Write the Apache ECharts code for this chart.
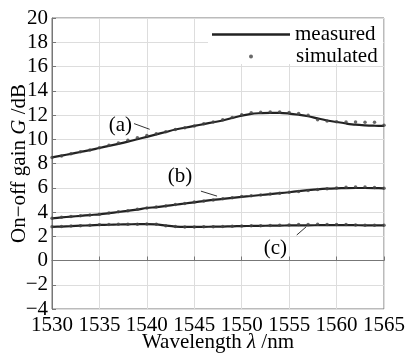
<!DOCTYPE html>
<html>
<head>
<meta charset="utf-8">
<script src="https://cdn.jsdelivr.net/npm/echarts@6/dist/echarts.min.js"></script>
<style>html,body{margin:0;padding:0;background:#fff;}#c{width:407px;height:353px;}</style>
</head>
<body>
<div id="c"></div>
<script>
const wavelengths = [1530,1531,1532,1533,1534,1535,1536,1537,1538,1539,1540,1541,1542,1543,1544,1545,1546,1547,1548,1549,1550,1551,1552,1553,1554,1555,1556,1557,1558,1559,1560,1561,1562,1563,1564,1565];
const measuredA = [8.5,8.65,8.8,8.95,9.1,9.28,9.45,9.62,9.8,10.0,10.2,10.4,10.6,10.8,10.95,11.1,11.25,11.4,11.55,11.75,11.95,12.1,12.15,12.18,12.18,12.12,12.02,11.9,11.72,11.55,11.42,11.3,11.2,11.15,11.12,11.1];
const simulatedA = [8.5,8.62,8.8,8.97,9.12,9.3,9.5,9.7,9.92,10.12,10.3,10.45,10.62,10.8,10.95,11.1,11.27,11.42,11.6,11.8,12.02,12.18,12.22,12.25,12.25,12.2,12.12,11.98,11.6,11.5,11.45,11.42,11.42,11.4,11.4,11.15];
const measuredB = [3.48,3.55,3.62,3.68,3.75,3.81,3.9,4.0,4.1,4.2,4.33,4.4,4.5,4.6,4.7,4.8,4.9,5.0,5.08,5.17,5.25,5.32,5.4,5.47,5.55,5.63,5.72,5.8,5.87,5.92,5.95,5.97,5.98,5.98,5.97,5.95];
const simulatedB = [3.48,3.56,3.63,3.7,3.76,3.82,3.92,4.02,4.1,4.22,4.33,4.42,4.5,4.62,4.7,4.82,4.9,5.0,5.1,5.18,5.27,5.33,5.4,5.48,5.55,5.62,5.7,5.78,5.85,5.92,5.98,6.05,6.06,6.06,6.02,5.95];
const measuredC = [2.78,2.8,2.83,2.87,2.9,2.93,2.95,2.97,2.98,3.0,3.0,2.98,2.88,2.8,2.77,2.77,2.78,2.79,2.8,2.82,2.84,2.85,2.86,2.87,2.88,2.89,2.9,2.9,2.91,2.92,2.92,2.92,2.91,2.9,2.9,2.9];
const simulatedC = [2.78,2.8,2.84,2.87,2.9,2.94,2.96,2.98,3.0,3.0,3.02,2.98,2.86,2.8,2.77,2.77,2.78,2.79,2.8,2.82,2.85,2.86,2.87,2.88,2.9,2.92,2.96,2.96,2.98,2.97,2.97,2.96,2.93,2.9,2.9,2.9];
const curveLabels = ['(a)','(b)','(c)'];
const curveLabelAt = [[1537.2,11.1],[1543.5,6.9],[1553.55,0.99]];
const pointerFrom = [[1538.65,11.29],[1545.7,5.72],[1555.8,2.1]];
const pointerTo = [[1540.3,10.82],[1547.4,5.31],[1556.8,2.78]];

const zip = (xs, ys) => xs.map((x, i) => [x, ys[i]]);
const FONT = '"Liberation Serif", "Times New Roman", serif';
const FS = 21;

const lineSeries = (data) => ({
  type: 'line', name: 'measured', data: zip(wavelengths, data),
  showSymbol: false, smooth: 0.3, z: 3,
  lineStyle: { color: '#222', width: 2.2 }, itemStyle: { color: '#222' }
});
const dotSeries = (data) => ({
  type: 'scatter', name: 'simulated', data: zip(wavelengths, data),
  symbol: 'circle', symbolSize: 3.5, z: 4,
  itemStyle: { color: '#444' }
});

const chart = echarts.init(document.getElementById('c'));
const first = lineSeries(measuredA);
first.markLine = {
  silent: true, symbol: ['none','none'],
  lineStyle: { color: '#333', width: 1, type: 'solid' },
  label: { show: false },
  data: pointerFrom.map((p, i) => [{ coord: p }, { coord: pointerTo[i] }])
};
first.markPoint = {
  silent: true, symbol: 'circle', symbolSize: 0,
  label: { show: true, position: 'inside', formatter: p => p.name, color: '#000', fontSize: FS, fontFamily: FONT },
  data: curveLabels.map((t, i) => ({ name: t, coord: curveLabelAt[i] }))
};

chart.setOption({
  animation: false,
  backgroundColor: '#fff',
  grid: { left: 52, right: 23, top: 18, bottom: 44, show: true, borderColor: '#777', borderWidth: 1, outerBoundsMode: 'none', containLabel: false },
  graphic: [{ type: 'rect', shape: { x: 208, y: 19, width: 175, height: 45 }, style: { fill: '#fff' }, z: 1, silent: true }],
  legend: [
    { data: ['measured'], left: 207, top: 19, itemWidth: 78, itemHeight: 14, icon: 'path://M0,6 L78,6 L78,8.4 L0,8.4 Z',
      textStyle: { fontFamily: FONT, fontSize: FS, color: '#000' }, z: 5 },
    { data: ['simulated'], left: 244, top: 41, itemWidth: 4, itemHeight: 4, icon: 'circle',
      textStyle: { fontFamily: FONT, fontSize: FS, color: '#000', padding: [0,0,0,38] }, z: 5 }
  ],
  xAxis: {
    type: 'value', min: 1530, max: 1565, interval: 5,
    name: 'Wavelength {i|λ} /nm', nameLocation: 'middle', nameGap: 23, nameMoveOverlap: false,
    nameTextStyle: { fontFamily: FONT, fontSize: FS, color: '#000', rich: { i: { fontStyle: 'italic', fontFamily: FONT, fontSize: FS } } },
    axisLine: { show: true, lineStyle: { color: '#777', width: 1 } },
    axisTick: { show: true, inside: true, length: 4, lineStyle: { color: '#777' } },
    axisLabel: { fontFamily: FONT, fontSize: FS, color: '#000', margin: 6, formatter: v => String(v) },
    splitLine: { show: true, lineStyle: { color: '#ddd', width: 1 } }
  },
  yAxis: {
    type: 'value', min: -4, max: 20, interval: 2,
    name: 'On−off gain {i|G} /dB', nameLocation: 'middle', nameGap: 22, nameRotate: 90, nameMoveOverlap: false,
    nameTextStyle: { fontFamily: FONT, fontSize: FS, color: '#000', rich: { i: { fontStyle: 'italic', fontFamily: FONT, fontSize: FS } } },
    axisLine: { show: true, lineStyle: { color: '#777', width: 1 } },
    axisTick: { show: true, inside: true, length: 4, lineStyle: { color: '#777' } },
    axisLabel: { fontFamily: FONT, fontSize: FS, color: '#000', margin: 4, formatter: v => String(v).replace('-', '−') },
    splitLine: { show: true, lineStyle: { color: '#ddd', width: 1 } }
  },
  series: [
    first, lineSeries(measuredB), lineSeries(measuredC),
    dotSeries(simulatedA), dotSeries(simulatedB), dotSeries(simulatedC)
  ]
});
</script>
</body>
</html>
